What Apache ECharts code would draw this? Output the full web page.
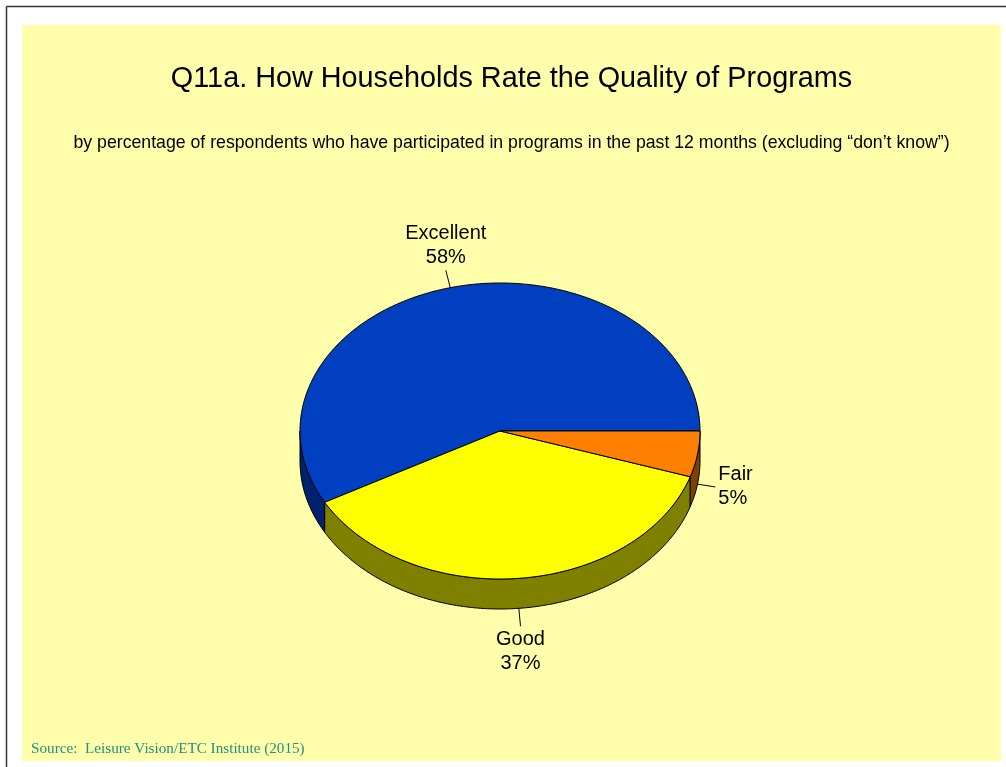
<!DOCTYPE html>
<html>
<head>
<meta charset="utf-8">
<script src="https://cdn.jsdelivr.net/npm/echarts@6/dist/echarts.min.js"></script>
<style>
  html, body { margin: 0; padding: 0; background: #fff; }
  #main { width: 1006px; height: 767px; }
</style>
</head>
<body>
<div id="main"></div>
<script>
var names = ['Excellent', 'Good', 'Fair'];
var values = [58, 37, 5];
var topColors = ['#0040C0', '#FFFF00', '#FF8000'];
var sideColors = ['#00226E', '#808000', '#804000'];

onload = function () {
    var myChart = echarts.init(document.getElementById('main'));
    var total = values.reduce(function (a, b) { return a + b; }, 0);

    // pie layout (tilted disc)
    var cx = 500, cy = 431, rx = 200, ry = 148, depth = 30;

    function pt(a, dy) {
        var r = a * Math.PI / 180;
        return [cx + rx * Math.cos(r), cy - ry * Math.sin(r) + (dy || 0)];
    }
    function arc(a0, a1, dy) {
        var pts = [];
        var n = Math.max(2, Math.ceil(Math.abs(a1 - a0) / 1));
        for (var i = 0; i <= n; i++) {
            pts.push(pt(a0 + (a1 - a0) * i / n, dy));
        }
        return pts;
    }

    function renderItem(params, api) {
        var idx = params.dataIndex;
        var before = 0;
        for (var i = 0; i < idx; i++) before += values[i];
        var v = api.value(0);
        var a0 = before / total * 360;
        var a1 = (before + v) / total * 360;
        var children = [];

        // front wall
        var s = Math.max(a0, 180), e = Math.min(a1, 360);
        if (e > s) {
            var up = arc(s, e, 0);
            var down = arc(e, s, depth);
            children.push({
                type: 'polygon',
                shape: { points: up.concat(down) },
                style: { fill: sideColors[idx], stroke: '#000', lineWidth: 1 }
            });
        }
        // top face
        children.push({
            type: 'polygon',
            shape: { points: [[cx, cy]].concat(arc(a0, a1, 0)) },
            style: { fill: topColors[idx], stroke: '#000', lineWidth: 1 }
        });

        // label with leader line
        var mid = (a0 + a1) / 2;
        var mr = mid * Math.PI / 180;
        var c = Math.cos(mr), sn = Math.sin(mr);
        var p = pt(mid, sn < 0 ? depth : 0);
        var q = [p[0] + 18 * c, p[1] - 18 * sn];
        children.push({
            type: 'line',
            shape: { x1: p[0], y1: p[1], x2: q[0], y2: q[1] },
            style: { stroke: '#000', lineWidth: 1 }
        });
        var tx, ty, align, valign;
        if (Math.abs(c) > 0.7) {
            tx = q[0] + (c > 0 ? 3 : -3); ty = q[1];
            align = c > 0 ? 'left' : 'right'; valign = 'middle';
        } else {
            tx = q[0]; ty = q[1] + (sn > 0 ? -1 : 1);
            align = 'center'; valign = sn > 0 ? 'bottom' : 'top';
        }
        children.push({
            type: 'text',
            style: {
                x: tx, y: ty,
                text: names[idx] + '\n' + Math.round(v / total * 100) + '%',
                fill: '#000',
                font: '20px "Liberation Sans", Arial, sans-serif',
                lineHeight: 24,
                align: align,
                verticalAlign: valign
            }
        });
        return { type: 'group', children: children };
    }

    myChart.setOption({
        backgroundColor: '#fff',
        animation: false,
        tooltip: { show: false },
        graphic: [
            { type: 'line', shape: { x1: 6.5, y1: 6.5, x2: 1006, y2: 6.5 }, style: { stroke: '#333', lineWidth: 1.5 } },
            { type: 'line', shape: { x1: 6.5, y1: 6.5, x2: 6.5, y2: 767 }, style: { stroke: '#333', lineWidth: 1.5 } },
            { type: 'rect', z: -10, shape: { x: 22, y: 25, width: 979, height: 736 }, style: { fill: '#FFFFAB' } },
            {
                type: 'text', x: 511.5, y: 79,
                style: { text: 'Q11a. How Households Rate the Quality of Programs', fill: '#000', align: 'center', verticalAlign: 'middle', font: '28.8px "Liberation Sans", Arial, sans-serif' }
            },
            {
                type: 'text', x: 511.5, y: 143,
                style: { text: 'by percentage of respondents who have participated in programs in the past 12 months (excluding \u201cdon\u2019t know\u201d)', fill: '#000', align: 'center', verticalAlign: 'middle', font: '17.7px "Liberation Sans", Arial, sans-serif' }
            },
            {
                type: 'text', x: 31, y: 749,
                style: { text: 'Source:  Leisure Vision/ETC Institute (2015)', fill: '#21907E', align: 'left', verticalAlign: 'middle', font: '15.2px "Liberation Serif", "Times New Roman", serif' }
            }
        ],
        series: [{
            type: 'custom',
            coordinateSystem: 'none',
            renderItem: renderItem,
            data: values.map(function (v, i) { return { name: names[i], value: [v, i] }; })
        }]
    });
};
</script>
</body>
</html>
